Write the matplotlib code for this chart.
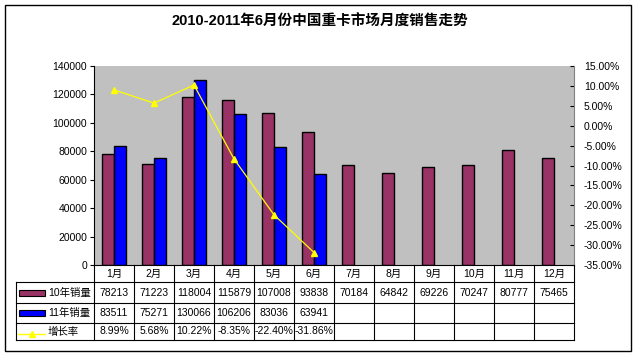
import numpy as np
import matplotlib.pyplot as plt
from matplotlib.ticker import FuncFormatter

plt.rcParams['font.family'] = ['Liberation Sans', 'Noto Sans CJK SC', 'DejaVu Sans']

# data
months = ['1月', '2月', '3月', '4月', '5月', '6月', '7月', '8月', '9月', '10月', '11月', '12月']
sales2010 = [78213, 71223, 118004, 115879, 107008, 93838, 70184, 64842, 69226, 70247, 80777, 75465]
sales2011 = [83511, 75271, 130066, 106206, 83036, 63941]
growth = [8.99, 5.68, 10.22, -8.35, -22.40, -31.86]
series_names = ['10年销量', '11年销量', '增长率']

title = '2010-2011年6月份中国重卡市场月度销售走势'

c10 = '#993366'
c11 = '#0000FF'
cline = '#FFFF00'

W, H = 638, 357
fig = plt.figure(figsize=(W / 100, H / 100), dpi=100)

# plot area in pixels
x0, x1, ytop, ybot = 94, 574, 66, 265
ax = fig.add_axes([x0 / W, 1 - ybot / H, (x1 - x0) / W, (ybot - ytop) / H])
ax.set_facecolor('#C0C0C0')

n = len(months)
x = np.arange(n)
bw = 0.29
ax.bar(x[:len(sales2010)] - bw / 2, sales2010, bw, color=c10, edgecolor='black', linewidth=1)
ax.bar(x[:len(sales2011)] + bw / 2, sales2011, bw, color=c11, edgecolor='black', linewidth=1)
ax.set_xlim(-0.5, n - 0.5)
ax.set_ylim(0, 140000)
ax.set_yticks(np.arange(0, 140001, 20000))
ax.set_xticks([])
ax.tick_params(axis='y', labelsize=7.5, length=3, pad=2)
for s in ['top', 'right']:
    ax.spines[s].set_visible(False)
ax.spines['left'].set_color('black')
ax.spines['bottom'].set_color('black')

ax2 = ax.twinx()
ax2.plot(x[:len(growth)], growth, color=cline, linewidth=0.9, marker='^', markersize=5,
         markerfacecolor=cline, markeredgecolor=cline)
ax2.set_ylim(-35, 15)
ax2.set_yticks(np.arange(-35, 15.1, 5))
ax2.yaxis.set_major_formatter(FuncFormatter(lambda v, p: '%.2f%%' % v))
ax2.tick_params(axis='y', labelsize=7.5, length=3, pad=7, direction='in')
for s in ['top', 'left', 'bottom']:
    ax2.spines[s].set_visible(False)
ax2.spines['right'].set_color('#808080')

# overlay in pixel coordinates for title, frame and data table
ov = fig.add_axes([0, 0, 1, 1], zorder=-1)
ov.set_xlim(0, W)
ov.set_ylim(H, 0)
ov.axis('off')
ov.add_patch(plt.Rectangle((5, 5), 626, 346, fill=False, edgecolor='black', linewidth=1))
ov.text(320, 22, title, ha='center', va='center', fontsize=10.5, fontweight='bold')

tab = fig.add_axes([0, 0, 1, 1], zorder=5)
tab.set_xlim(0, W)
tab.set_ylim(H, 0)
tab.axis('off')
tab.patch.set_alpha(0)

cw = (x1 - x0) / n
left = 16
rows = [265, 282, 303, 323, 340]
for i in range(n + 1):
    tab.plot([x0 + i * cw] * 2, [rows[0], rows[-1]], color='black', linewidth=0.8)
tab.plot([left, left], [rows[1], rows[-1]], color='black', linewidth=0.8)
for r in rows[1:]:
    tab.plot([left, x1], [r, r], color='black', linewidth=0.8)

fs = 7.5
for i, m in enumerate(months):
    cx = x0 + (i + 0.5) * cw
    tab.text(cx, (rows[0] + rows[1]) / 2, m, ha='center', va='center', fontsize=fs)
    if i < len(sales2010):
        tab.text(cx, (rows[1] + rows[2]) / 2, str(sales2010[i]), ha='center', va='center', fontsize=fs)
    if i < len(sales2011):
        tab.text(cx, (rows[2] + rows[3]) / 2, str(sales2011[i]), ha='center', va='center', fontsize=fs)
    if i < len(growth):
        tab.text(cx, (rows[3] + rows[4]) / 2, '%.2f%%' % growth[i], ha='center', va='center', fontsize=fs)

# legend keys in the table
for k, c in enumerate([c10, c11]):
    cy = (rows[k + 1] + rows[k + 2]) / 2
    tab.add_patch(plt.Rectangle((19, cy - 3), 26, 6, facecolor=c, edgecolor='black', linewidth=0.8))
    tab.text(48, cy, series_names[k], ha='left', va='center', fontsize=fs)
cy = (rows[3] + rows[4]) / 2
tab.plot([18, 45], [cy + 2, cy + 2], color=cline, linewidth=1)
tab.plot([31.5], [cy + 2], marker='^', color=cline, markersize=5)
tab.text(48, cy, series_names[2], ha='left', va='center', fontsize=fs)

fig.savefig('out.png', dpi=100)
